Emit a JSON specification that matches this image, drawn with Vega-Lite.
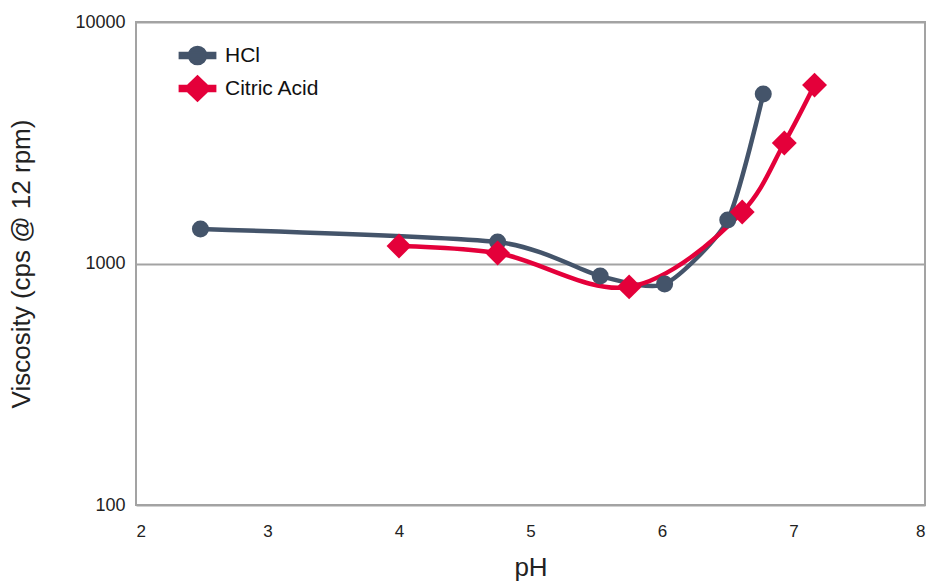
{
  "$schema": "https://vega.github.io/schema/vega-lite/v6.json",
  "width": 789,
  "height": 483,
  "autosize": {"type": "none"},
  "padding": {"left": 136, "top": 22, "right": 6, "bottom": 81},
  "background": "white",
  "config": {
    "font": "Liberation Sans",
    "view": {"stroke": "#a3a3a3", "strokeWidth": 2},
    "axis": {"labelFont": "Liberation Sans", "titleFont": "Liberation Sans", "titleFontWeight": "normal", "labelColor": "#222", "titleColor": "#222"}
  },
  "data": {
    "values": [
      {"series": "HCl", "pH": 2.49, "visc": 1390},
      {"series": "HCl", "pH": 4.75, "visc": 1227},
      {"series": "HCl", "pH": 5.53, "visc": 887},
      {"series": "HCl", "pH": 6.02, "visc": 822},
      {"series": "HCl", "pH": 6.5, "visc": 1514},
      {"series": "HCl", "pH": 6.77, "visc": 5030},
      {"series": "Citric Acid", "pH": 4.0, "visc": 1181},
      {"series": "Citric Acid", "pH": 4.75, "visc": 1105},
      {"series": "Citric Acid", "pH": 5.75, "visc": 800},
      {"series": "Citric Acid", "pH": 6.61, "visc": 1634},
      {"series": "Citric Acid", "pH": 6.93, "visc": 3155},
      {"series": "Citric Acid", "pH": 7.16, "visc": 5480}
    ]
  },
  "encoding": {
    "x": {
      "field": "pH", "type": "quantitative",
      "scale": {"domain": [2, 8], "nice": false, "zero": false},
      "axis": {"title": "pH", "values": [2, 3, 4, 5, 6, 7, 8], "grid": false, "domain": false, "ticks": false, "labelFontSize": 17, "labelPadding": 18, "titleFontSize": 26, "titlePadding": 15}
    },
    "y": {
      "field": "visc", "type": "quantitative",
      "scale": {"type": "log", "domain": [100, 10000], "nice": false},
      "axis": {"title": "Viscosity (cps @ 12 rpm)", "values": [100, 1000, 10000], "format": "d", "grid": true, "gridColor": "#a3a3a3", "gridWidth": 2, "domain": false, "ticks": false, "labelFontSize": 18, "labelPadding": 11, "titleFontSize": 26, "titlePadding": 40}
    },
    "color": {
      "field": "series", "type": "nominal",
      "scale": {"domain": ["HCl", "Citric Acid"], "range": ["#44546a", "#e4003a"]},
      "legend": {
        "orient": "none", "legendX": 44, "legendY": 16, "title": null,
        "labelFontSize": 21, "labelFont": "Liberation Sans", "labelColor": "#111",
        "symbolSize": 1089, "rowPadding": 3, "labelOffset": 10,
        "encode": {
          "symbols": {
            "update": {
              "shape": {"signal": "datum.value === 'HCl' ? 'M-1.1,-0.18H1.1V0.18H-1.1Z M-0.55,0A0.55,0.55,0,1,1,0.55,0A0.55,0.55,0,1,1,-0.55,0Z' : 'M-1.1,-0.18H1.1V0.18H-1.1Z M-0.8,0L0,-0.77L0.8,0L0,0.77Z'"},
              "fill": {"signal": "datum.value === 'HCl' ? '#44546a' : '#e4003a'"},
              "stroke": {"value": "transparent"},
              "size": {"value": 1089},
              "opacity": {"value": 1},
              "fillOpacity": {"value": 1}
            }
          }
        }
      }
    }
  },
  "layer": [
    {
      "transform": [{"filter": "datum.series === 'HCl'"}],
      "mark": {"type": "line", "interpolate": "cardinal", "tension": 0.35, "strokeWidth": 4.5}
    },
    {
      "transform": [{"filter": "datum.series === 'Citric Acid'"}],
      "mark": {"type": "line", "interpolate": "catmull-rom", "strokeWidth": 4.5}
    },
    {
      "transform": [{"filter": "datum.series === 'HCl'"}],
      "mark": {"type": "point", "filled": true, "opacity": 1, "shape": "circle", "size": 290}
    },
    {
      "transform": [{"filter": "datum.series === 'Citric Acid'"}],
      "mark": {"type": "point", "filled": true, "opacity": 1, "shape": "diamond", "size": 620}
    }
  ]
}
